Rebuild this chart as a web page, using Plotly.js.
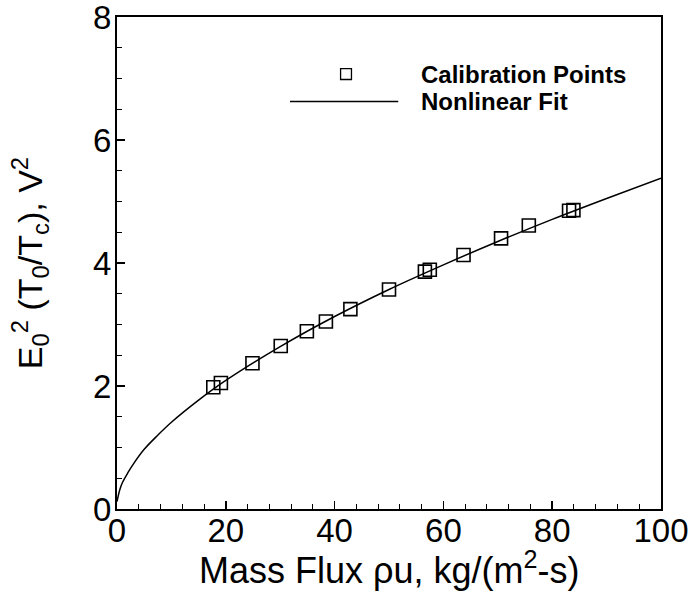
<!DOCTYPE html>
<html>
<head>
<meta charset="utf-8">
<script src="https://cdn.plot.ly/plotly-3.0.1.min.js"></script>
<style>html,body{margin:0;padding:0;background:#fff;}#chart{width:695px;height:594px;}</style>
</head>
<body>
<div id="chart"></div>
<script>
// Calibration points (mass flux, E0^2 (T0/Tc))
const calX = [17.7, 19.1, 24.9, 30.1, 34.9, 38.4, 42.9, 50.0, 56.6, 57.5, 63.7, 70.6, 75.7, 83.1, 83.9];
const calY = [1.98, 2.05, 2.37, 2.65, 2.89, 3.05, 3.25, 3.57, 3.86, 3.89, 4.13, 4.40, 4.61, 4.85, 4.86];
// Nonlinear fit curve
const fitX = [0, 0.5, 1, 2, 3, 5, 7.5, 10, 15, 20, 30, 40, 50, 60, 70, 80, 90, 100];
const fitY = [0.12, 0.31, 0.43, 0.59, 0.73, 0.97, 1.20, 1.41, 1.77, 2.09, 2.64, 3.13, 3.57, 3.97, 4.35, 4.71, 5.05, 5.38];
const legendLabels = ["Calibration Points", "Nonlinear Fit"];
const xTitle = "Mass Flux ρu, kg/(m<sup>2</sup>-s)";
const yTitle = "E<sub>0</sub><sup>2</sup> (T<sub>0</sub>/T<sub>c</sub>), V<sup>2</sup>";

const font = "Liberation Sans, Arial, Helvetica, sans-serif";

const traces = [
  {x: fitX, y: fitY, mode: "lines", line: {color: "#000", width: 1.5, shape: "spline"}, showlegend: false, hoverinfo: "skip"},
  {x: calX, y: calY, mode: "markers", marker: {symbol: "square-open", size: 13, color: "#000", line: {width: 1.6, color: "#000"}}, showlegend: false}
];

const axisCommon = {
  showline: true, mirror: true, linecolor: "#000", linewidth: 2,
  ticks: "inside", ticklen: 8, tickwidth: 1.5, tickcolor: "#000",
  showgrid: false, zeroline: false, ticklabeloverflow: "allow",
  tickfont: {family: font, size: 33, color: "#000"}
};

const layout = {
  width: 695, height: 594,
  margin: {l: 117, r: 34, t: 17, b: 85},
  paper_bgcolor: "#fff", plot_bgcolor: "#fff",
  font: {family: font, color: "#000"},
  xaxis: Object.assign({}, axisCommon, {
    range: [0, 100], dtick: 20, tick0: 0, ticklabelstandoff: -9,
    minor: {dtick: 4, ticks: "inside", ticklen: 5, tickcolor: "#000", tickwidth: 1}
  }),
  yaxis: Object.assign({}, axisCommon, {
    range: [0, 8], dtick: 2, tick0: 0, ticklabelstandoff: -3,
    minor: {dtick: 0.5, ticks: "inside", ticklen: 5, tickcolor: "#000", tickwidth: 1},
    title: {text: yTitle, font: {family: font, size: 34, color: "#000"}, standoff: 40}
  }),
  shapes: [
    {type: "rect", xref: "paper", yref: "paper", x0: 0.411, x1: 0.431, y0: 0.873, y1: 0.895, line: {color: "#000", width: 1.3}},
    {type: "line", xref: "paper", yref: "paper", x0: 0.318, x1: 0.517, y0: 0.828, y1: 0.828, line: {color: "#000", width: 1.5}}
  ],
  annotations: [
    {xref: "paper", yref: "paper", x: 0.555, y: 0.884, xanchor: "left", yanchor: "middle", showarrow: false,
     text: "<b>" + legendLabels[0] + "</b>", font: {family: font, size: 24, color: "#000"}},
    {xref: "paper", yref: "paper", x: 0.555, y: 0.828, xanchor: "left", yanchor: "middle", showarrow: false,
     text: "<b>" + legendLabels[1] + "</b>", font: {family: font, size: 24, color: "#000"}},
    {xref: "paper", yref: "paper", x: 0.5, y: -0.12, xanchor: "center", yanchor: "middle", showarrow: false,
     text: xTitle, font: {family: font, size: 36, color: "#000"}}
  ]
};

Plotly.newPlot("chart", traces, layout, {displayModeBar: false, staticPlot: true});
</script>
</body>
</html>
